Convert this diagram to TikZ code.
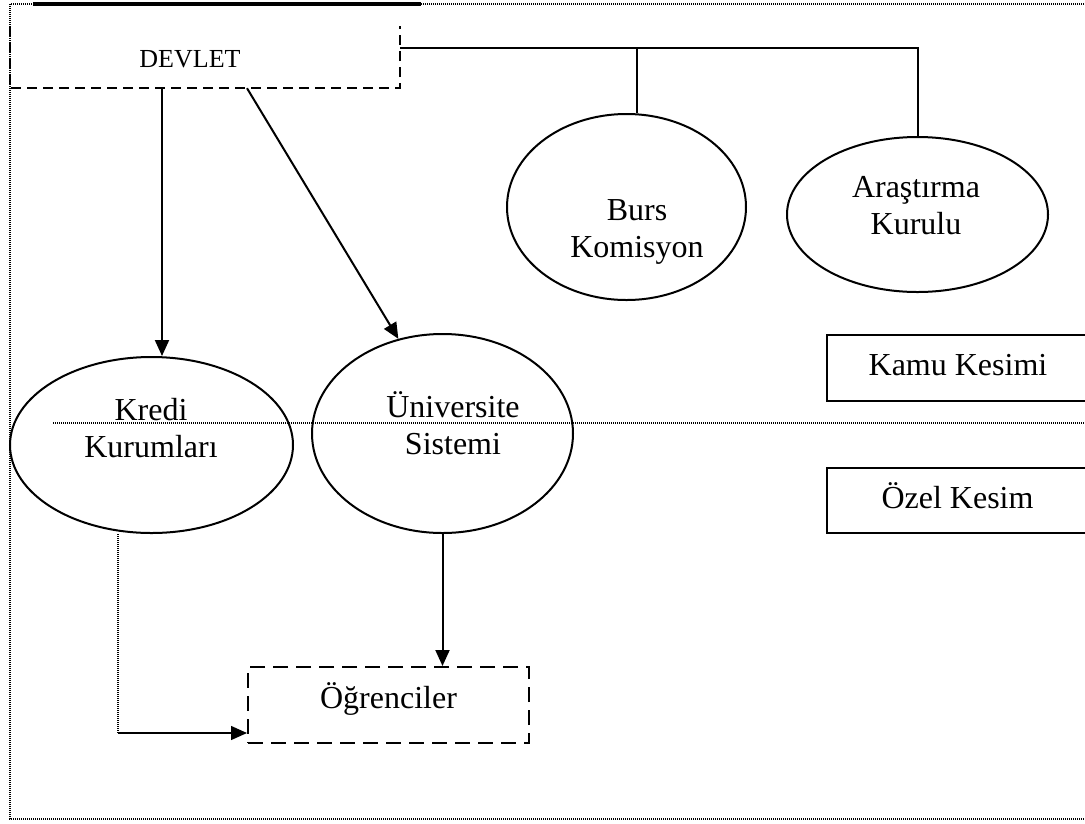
\documentclass[tikz,border=0pt]{standalone}
\usepackage{fontspec}
\setmainfont{Liberation Serif}
\usetikzlibrary{shapes.geometric,arrows.meta}
\tikzset{
  big/.style={font=\fontsize{32}{37}\selectfont,align=center,inner sep=0},
  oval/.style={ellipse,draw,line width=2pt,inner sep=0},
  sector/.style={draw,line width=2pt,minimum width=262pt,inner sep=0,text height=15pt,text depth=0pt},
  dashbox/.style={line width=2pt,dash pattern=on 10pt off 6pt},
  longdash/.style={line width=2pt,dash pattern=on 15pt off 8pt},
  dotline/.style={line width=1.2pt,dash pattern=on 1pt off 1pt},
  link/.style={line width=2pt},
  arr/.style={link,-{Triangle[length=16pt,width=14pt]}}
}

\begin{document}
\begin{tikzpicture}[x=1pt,y=-1pt]
  \useasboundingbox (0,0) rectangle (1085,823);
  \draw[dotline] (1090,4) -| (10,819) -- (1090,819);
  \draw[dotline] (53,423) -- (1090,423);
  \draw[line width=3.5pt] (33,4) -- (421,4);
  \node(devlet)[minimum width=390pt,minimum height=62pt,inner sep=0,text height=20pt,text depth=0pt,font=\fontsize{26}{30}\selectfont] at (205,57) {\hspace*{-30pt}DEVLET};
  \draw[dashbox] (devlet.north west) |- (devlet.south east) -- (devlet.north east);
  \node(kredi)[oval,minimum width=283pt,minimum height=176pt] at (151.5,445) {};
  \node(univ)[oval,minimum width=261pt,minimum height=199pt] at (442.5,433.5) {};
  \node(burs)[oval,minimum width=239pt,minimum height=186pt] at (626.5,207) {};
  \node(arastirma)[oval,minimum width=261pt,minimum height=155pt] at (917.5,214.5) {};
  \node(krediT)[big] at (151,428) {Kredi\\Kurumları};
  \node(univT)[big] at (453,423.5) {Üniversite\\Sistemi};
  \node(bursT)[big] at (637,231.5) {Burs\\Komisyon};
  \node(arastirmaT)[big] at (916,206) {Araştırma\\Kurulu};
  \node(kamu)[sector,minimum height=66pt,big] at (958,368) {Kamu Kesimi};
  \node(ozel)[sector,minimum height=65pt,big] at (957.5,500.5) {Özel Kesim};
  \node(ogr)[draw,longdash,minimum width=281pt,minimum height=76pt,big,text height=13pt,text depth=7pt] at (388.5,705) {Öğrenciler};
  \path ([yshift=11pt]ogr.south west) coordinate (ogrin);
  \coordinate (kbend) at ([xshift=-33.5pt]kredi.south |- ogrin);
  \draw[arr] ([xshift=-43pt]devlet.south) -- ([xshift=10.5pt]kredi.north);
  \draw[arr] ([xshift=42pt]devlet.south) -- (univ.115);
  \draw[arr] (univ.south) -- (univ.south |- ogr.north);
  \draw[dotline] ([xshift=-33.5pt]kredi.south) -- (kbend);
  \draw[arr,line width=1.4pt] (kbend) -- (ogrin);
  \draw[link] ([yshift=9pt]devlet.east) -| (arastirma.north);
  \draw[link] ([xshift=10.5pt]burs.north) |- ([yshift=9pt]devlet.east);
\end{tikzpicture}
\end{document}
